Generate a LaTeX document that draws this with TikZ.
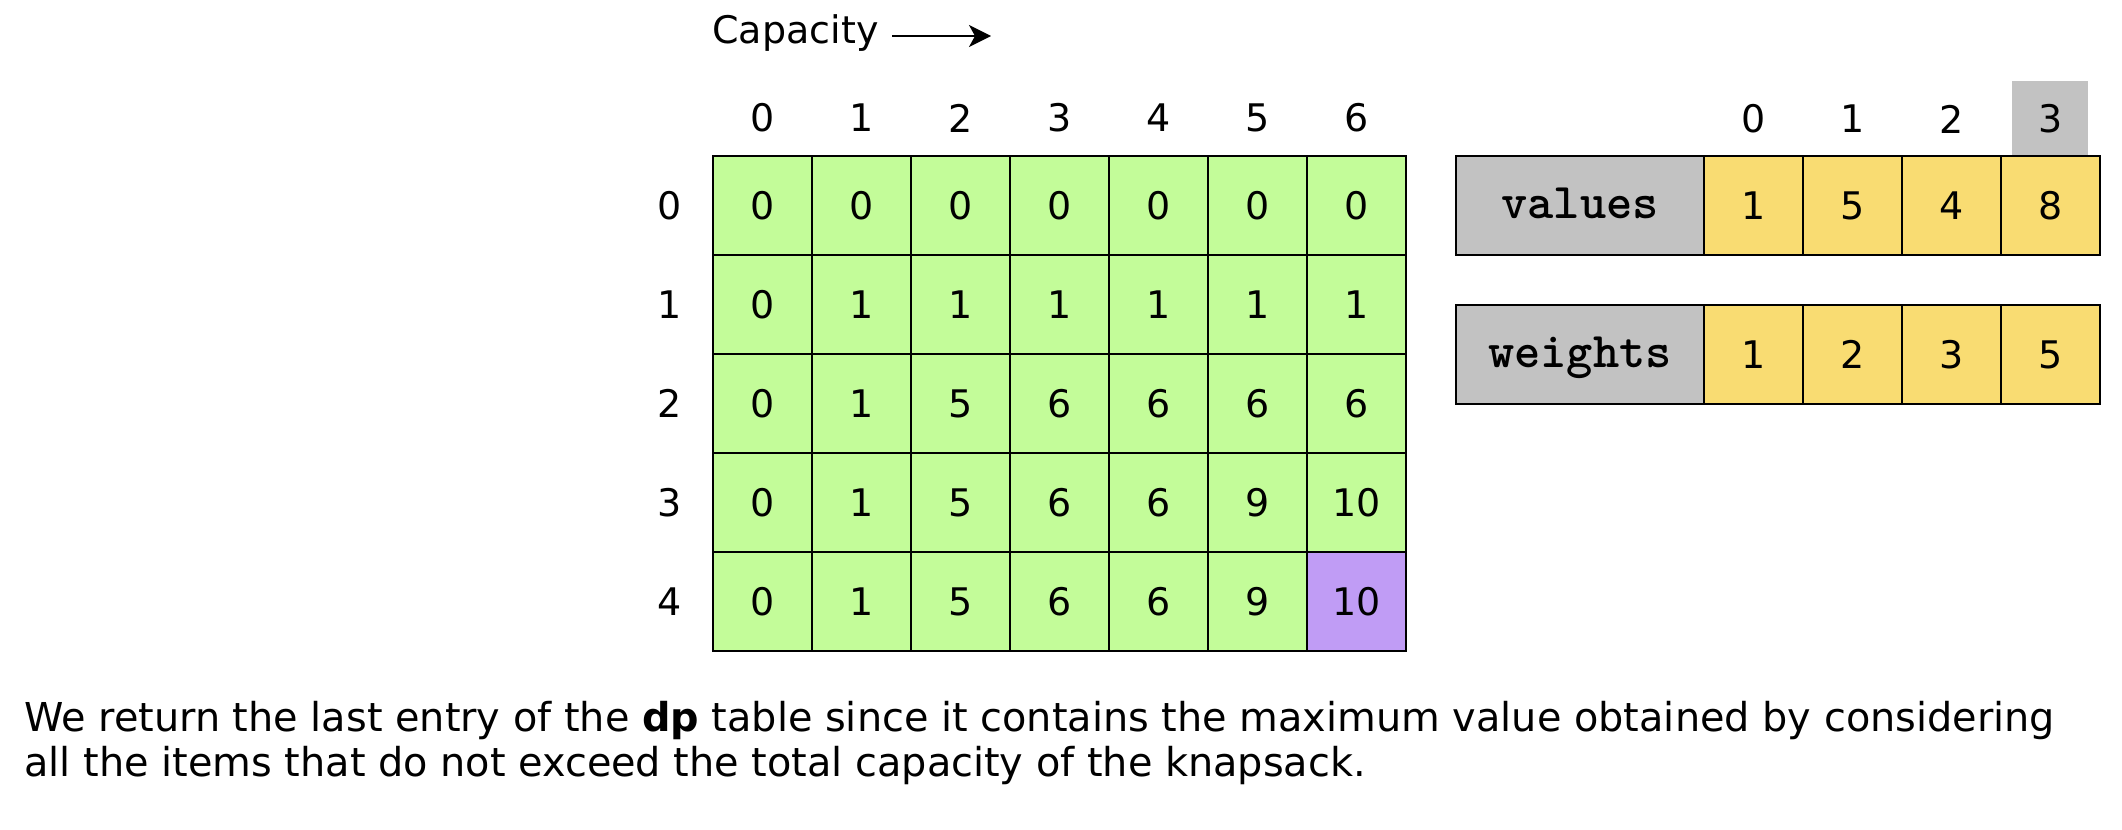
\documentclass[tikz,border=0pt]{standalone}
\usepackage{fontspec}
\setmainfont{DejaVu Sans}
\usetikzlibrary{arrows.meta}
\definecolor{cellgreen}{HTML}{C3FC99}
\definecolor{cellpurple}{HTML}{C09CF5}
\definecolor{cellyellow}{HTML}{F9DC72}
\definecolor{cellgray}{HTML}{C2C2C2}
\begin{document}
\begin{tikzpicture}[x=0.5pt,y=-0.5pt,
  txt/.style={font=\fontsize{19pt}{22pt}\selectfont, inner sep=0pt},
  gcell/.style={draw=black, line width=1pt, fill=cellgreen, minimum width=49.5pt, minimum height=49.5pt, inner sep=0pt, font=\fontsize{19pt}{22pt}\selectfont},
  pcell/.style={gcell, fill=cellpurple},
  ycell/.style={gcell, fill=cellyellow},
  lblbox/.style={draw=black, line width=1pt, fill=cellgray, minimum width=124pt, minimum height=49.5pt, inner sep=0pt, text height=12.5pt, text depth=0pt, font=\ttfamily\bfseries\fontsize{25pt}{28pt}\selectfont}
]
\useasboundingbox (0,0) rectangle (2122,830);

% Capacity label and arrow
\node[txt, anchor=west] (cap) at (712,33) {Capacity};
\coordinate (capstart) at (892,36);
\coordinate (capend) at (991,36);
\draw[line width=1pt, -{Stealth[length=11pt,width=11pt,inset=3pt]}] (capstart) -- (capend);

% column headers
\foreach \j in {0,...,6} {
  \node[txt] (ch\j) at ({762.5+99*\j},118) {\j};
}
% row labels
\foreach \i in {0,...,4} {
  \node[txt] (rh\i) at (670,{205.5+99*\i}) {\i};
}

% dp table
\foreach \i/\vals in {0/{0,0,0,0,0,0,0},1/{0,1,1,1,1,1,1},2/{0,1,5,6,6,6,6},3/{0,1,5,6,6,9,10},4/{0,1,5,6,6,9,10}} {
  \foreach \v [count=\c from 0] in \vals {
    \ifnum\i=4 \ifnum\c=6
      \node[pcell] (d\i\c) at ({762.5+99*\c},{205.5+99*\i}) {\v};
    \else
      \node[gcell] (d\i\c) at ({762.5+99*\c},{205.5+99*\i}) {\v};
    \fi\else
      \node[gcell] (d\i\c) at ({762.5+99*\c},{205.5+99*\i}) {\v};
    \fi
  }
}

% index header for arrays
\node[fill=cellgray, minimum width=38pt, minimum height=37.5pt, inner sep=0pt] (ihl) at (2050,118.5) {};
\foreach \k in {0,...,3} {
  \node[txt] (ih\k) at ({1753.5+99*\k},119) {\k};
}

% values array
\node[lblbox] (vlab) at (1580,205.5) {values};
\foreach \v [count=\k from 0] in {1,5,4,8} {
  \node[ycell] (v\k) at ({1753.5+99*\k},205.5) {\v};
}
% weights array
\node[lblbox] (wlab) at (1580,354.5) {weights};
\foreach \v [count=\k from 0] in {1,2,3,5} {
  \node[ycell] (w\k) at ({1753.5+99*\k},354.5) {\v};
}

% caption
\node[anchor=west, align=left, inner sep=0pt, font=\fontsize{19.9pt}{22.6pt}\selectfont] (capt) at (24,743) {We return the last entry of the \textbf{dp} table since it contains the maximum value obtained by considering\\all the items that do not exceed the total capacity of the knapsack.};
\end{tikzpicture}
\end{document}
